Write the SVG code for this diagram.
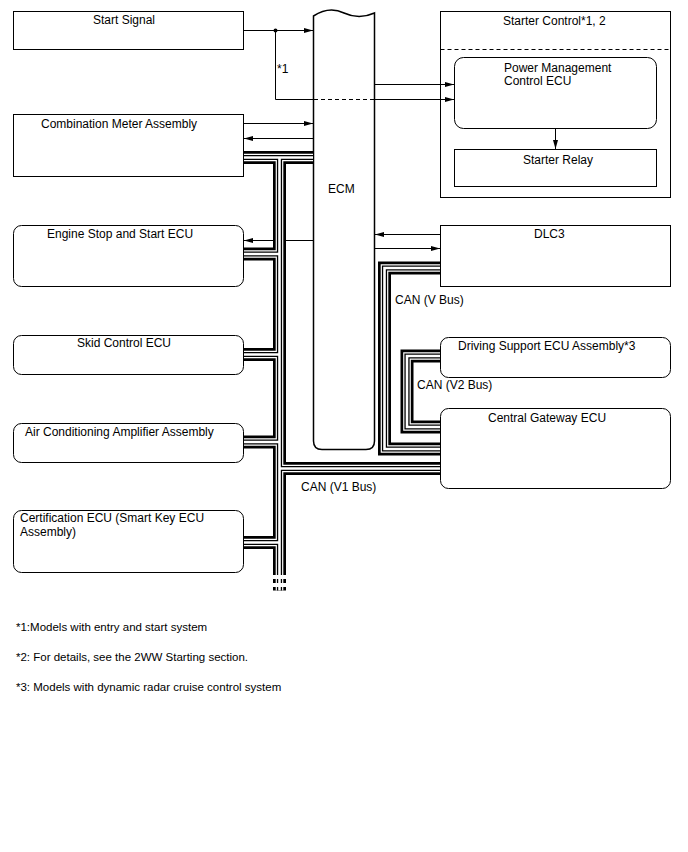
<svg xmlns="http://www.w3.org/2000/svg" width="688" height="852" viewBox="0 0 688 852">
<style>
text{font-family:"Liberation Sans",Arial,sans-serif;font-size:12px;fill:#000}
.note{font-size:11.5px}
.box{fill:#fff;stroke:#000;stroke-width:1}
.ecm{fill:#fff;stroke:#000;stroke-width:1.5}
.ln{fill:none;stroke:#000;stroke-width:1}
.arr{fill:none;stroke:#000;stroke-width:1;marker-end:url(#ah)}
.dash{fill:none;stroke:#000;stroke-width:1;stroke-dasharray:4 3}
.b1{fill:none;stroke:#000;stroke-width:13}
.b2{fill:none;stroke:#fff;stroke-width:7.6}
.b3{fill:none;stroke:#000;stroke-width:5.2}
.b4{fill:none;stroke:#fff;stroke-width:2.6}
</style>
<defs>
<marker id="ah" markerUnits="userSpaceOnUse" markerWidth="9" markerHeight="6" refX="9" refY="3" orient="auto"><path d="M0,0.5 L9,3 L0,5.5 Z" fill="#000"/></marker>
<path id="can" d="M244,157.5 H313 M279.5,157.5 V575 M279.5,579 V583 M279.5,587 V590.5 M244,254 H279.5 M244,354.5 H279.5 M244,442 H279.5 M244,542.5 H279.5 M279.5,468.5 H440 M440,268 H384.5 V449 H440 M440,356 H407 V427 H440"/>
</defs>
<rect width="688" height="852" fill="#fff"/>

<g id="start-signal">
<rect class="box" x="13.5" y="11.5" width="230" height="38"/>
<text x="93" y="24">Start Signal</text>
</g>
<g id="combination-meter">
<rect class="box" x="13.5" y="114.5" width="230" height="62"/>
<text x="41" y="128">Combination Meter Assembly</text>
</g>
<g id="engine-stop-start-ecu">
<rect class="box" x="13.5" y="225.5" width="230" height="61" rx="8"/>
<text x="47" y="238">Engine Stop and Start ECU</text>
</g>
<g id="skid-control-ecu">
<rect class="box" x="13.5" y="335.5" width="230" height="39" rx="8"/>
<text x="77" y="347">Skid Control ECU</text>
</g>
<g id="air-conditioning">
<rect class="box" x="13.5" y="423.5" width="230" height="39" rx="8"/>
<text x="25" y="436">Air Conditioning Amplifier Assembly</text>
</g>
<g id="certification-ecu">
<rect class="box" x="13.5" y="510.5" width="230" height="62" rx="8"/>
<text x="20" y="522">Certification ECU (Smart Key ECU</text>
<text x="20" y="536">Assembly)</text>
</g>
<g id="ecm">
<path class="ecm" d="M313.5,16 Q329,6 344,13 T374.5,13 V441 Q374.5,449.5 366,449.5 H322 Q313.5,449.5 313.5,441 Z"/>
<text x="328" y="193">ECM</text>
</g>
<g id="starter-control">
<rect class="box" x="440.5" y="11.5" width="230" height="186"/>
<line class="dash" x1="440.5" y1="49.5" x2="670.5" y2="49.5"/>
<text x="503" y="25">Starter Control*1, 2</text>
</g>
<g id="power-management-ecu">
<rect class="box" x="454.5" y="57.5" width="202" height="71" rx="9"/>
<text x="504" y="72">Power Management</text>
<text x="504" y="85">Control ECU</text>
</g>
<g id="starter-relay">
<rect class="box" x="454.5" y="149.5" width="202" height="37"/>
<text x="523" y="164">Starter Relay</text>
</g>
<g id="dlc3">
<rect class="box" x="440.5" y="225.5" width="230" height="61"/>
<text x="534" y="238">DLC3</text>
</g>
<g id="driving-support-ecu">
<rect class="box" x="440.5" y="337.5" width="230" height="40" rx="8"/>
<text x="458" y="350">Driving Support ECU Assembly*3</text>
</g>
<g id="central-gateway-ecu">
<rect class="box" x="440.5" y="408.5" width="230" height="80" rx="8"/>
<text x="488" y="422">Central Gateway ECU</text>
</g>

<g id="connectors">
<path class="arr" d="M244,30.5 H313"/>
<circle cx="275.5" cy="30.5" r="2" fill="#000"/>
<path class="ln" d="M275.5,30.5 V99.5 H313.5"/>
<path class="dash" d="M314,99.5 H374"/>
<path class="arr" d="M374.5,99.5 H454"/>
<path class="arr" d="M375,84.5 H454"/>
<path class="arr" d="M244,123.5 H313"/>
<path class="arr" d="M313,138.5 H244"/>
<path class="arr" d="M313,240.5 H244"/>
<path class="arr" d="M440,234.5 H375"/>
<path class="arr" d="M375,248.5 H440"/>
<path class="arr" d="M555.5,129 V149"/>
<use href="#can" class="b1"/>
<use href="#can" class="b2"/>
<use href="#can" class="b3"/>
<use href="#can" class="b4"/>
<text x="277" y="73">*1</text>
<text x="395" y="304">CAN (V Bus)</text>
<text x="417" y="389">CAN (V2 Bus)</text>
<text x="301" y="491">CAN (V1 Bus)</text>
</g>

<g id="notes">
<text class="note" x="16" y="631">*1:Models with entry and start system</text>
<text class="note" x="16" y="661">*2: For details, see the 2WW Starting section.</text>
<text class="note" x="16" y="691">*3: Models with dynamic radar cruise control system</text>
</g>
</svg>
